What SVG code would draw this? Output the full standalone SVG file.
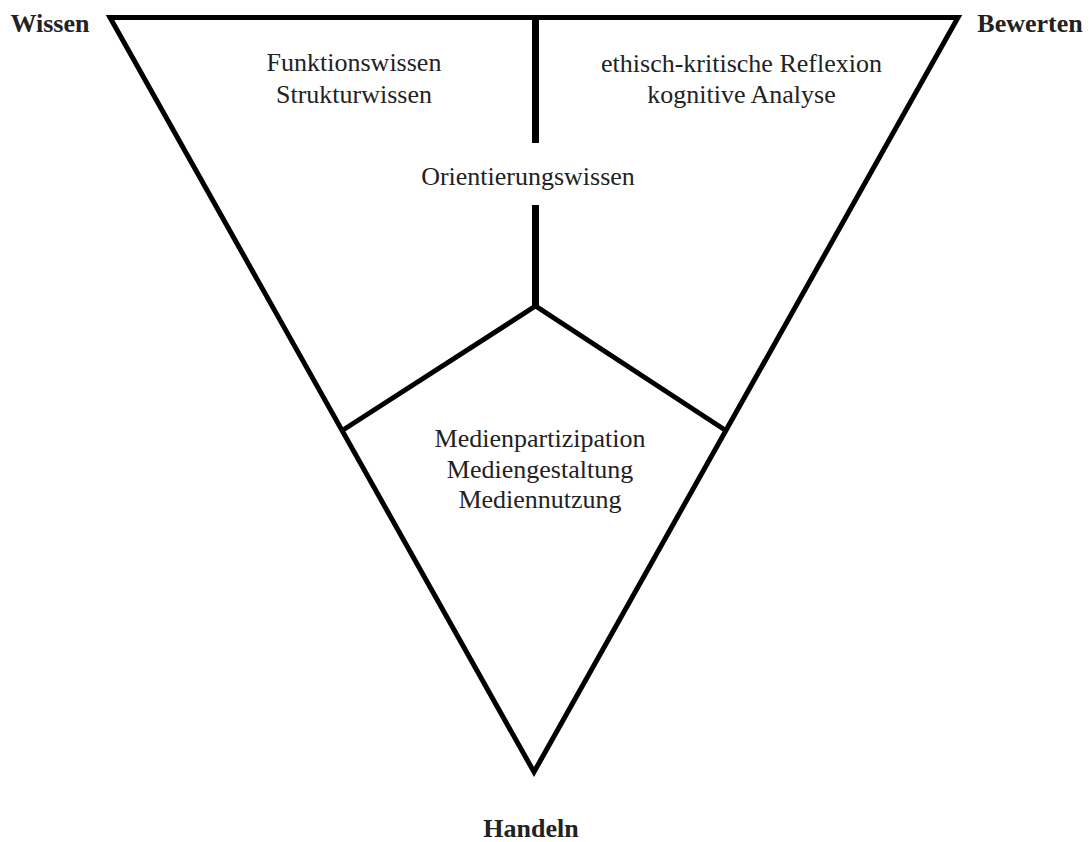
<svg xmlns="http://www.w3.org/2000/svg" width="1090" height="842" viewBox="0 0 1090 842">
<style>
.t{font-family:"Liberation Serif","Times New Roman",serif;font-size:26px;fill:#222;text-anchor:middle}
.b{font-weight:bold}
.l{stroke:#000;fill:none;stroke-linecap:butt;stroke-linejoin:miter}
</style>
<rect width="1090" height="842" fill="#fff"/>
<g id="connectors">
<polygon class="l" points="110,17.5 958,17.5 534,772" stroke-width="5"/>
<line class="l" x1="535.5" y1="17" x2="535.5" y2="143" stroke-width="7"/>
<line class="l" x1="535.5" y1="205" x2="535.5" y2="306" stroke-width="7"/>
<polyline class="l" points="343,430 535.5,306 725,430" stroke-width="5"/>
</g>
<g id="wissen"><text class="t b" x="50" y="32">Wissen</text></g>
<g id="bewerten"><text class="t b" x="1030" y="32">Bewerten</text></g>
<g id="handeln"><text class="t b" x="531" y="837">Handeln</text></g>
<g id="wissen-region"><text class="t" x="354" y="71">Funktionswissen</text><text class="t" x="354" y="103">Strukturwissen</text></g>
<g id="bewerten-region"><text class="t" x="741.5" y="72">ethisch-kritische Reflexion</text><text class="t" x="741.5" y="103">kognitive Analyse</text></g>
<g id="orientierung"><text class="t" x="528" y="185">Orientierungswissen</text></g>
<g id="handeln-region"><text class="t" x="540" y="447">Medienpartizipation</text><text class="t" x="540" y="478">Mediengestaltung</text><text class="t" x="540" y="508">Mediennutzung</text></g>
</svg>
